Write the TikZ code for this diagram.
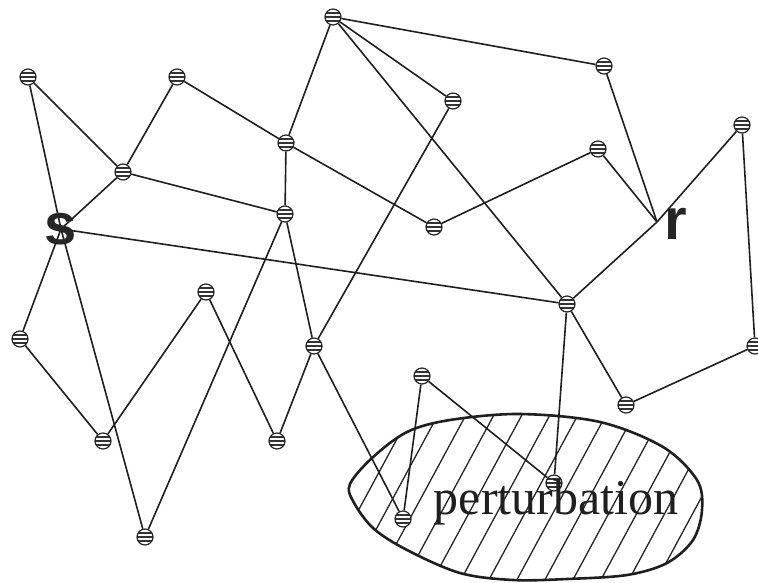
\documentclass[tikz,border=0pt]{standalone}
\usepackage{fontspec}
\setmainfont{Liberation Serif}
\newfontfamily\lsans{Liberation Sans}
\pgfdeclarelayer{background}
\pgfsetlayers{background,main}
\begin{document}
\begin{tikzpicture}[x=1pt,y=-1pt,
  vtx/.style={circle, draw=black!85, line width=1.2pt, fill=white, minimum size=16pt, inner sep=0pt,
    path picture={\foreach \d in {-4.2,0,4.2}{\draw[line width=2.1pt, black!80] ([yshift=\d pt]path picture bounding box.west) -- ([yshift=\d pt]path picture bounding box.east);}}},
  edge/.style={line width=1.6pt, draw=black!88},
  blob/.style={line width=2.6pt, draw=black!88},
  hatch/.style={line width=1.3pt, draw=black!85},
  letter/.style={font=\lsans\bfseries\fontsize{58}{58}\selectfont, inner sep=0pt, text=black!85}
]
\useasboundingbox (0,0) rectangle (758,582);

% vertices
\node[vtx] (top) at (333,17) {};
\node[vtx] (n2)  at (604,66) {};
\node[vtx] (n3)  at (453,101) {};
\node[vtx] (A)   at (28,77) {};
\node[vtx] (n5)  at (177,77) {};
\node[vtx] (n6)  at (286,143) {};
\node[vtx] (n7)  at (598,149) {};
\node[vtx] (n8)  at (742,125) {};
\node[vtx] (n9)  at (123,172) {};
\node[vtx] (n10) at (285,214) {};
\node[vtx] (n11) at (434,227) {};
\node[vtx] (n14) at (567,304) {};
\node[vtx] (n15) at (206,292) {};
\node[vtx] (n16) at (20,339) {};
\node[vtx] (n17) at (314,346) {};
\node[vtx] (n18) at (755,346) {};
\node[vtx] (n19) at (422,376) {};
\node[vtx] (n20) at (626,405) {};
\node[vtx] (n21) at (103,441) {};
\node[vtx] (n22) at (277,441) {};
\node[vtx] (n23) at (554,483) {};
\node[vtx] (n24) at (403,519) {};
\node[vtx] (n25) at (145,537) {};
\node[letter] (s) at (61,229) {s};
\coordinate (r) at (657,222);
\node[letter] (rl) at (676,224) {r};

\begin{pgfonlayer}{background}
  % perturbation region
  \begin{scope}
    \clip plot[smooth cycle, tension=0.55] coordinates {(350,484) (372,458) (407,432) (450,420) (520,414) (600,422) (663,447) (697,480) (702,510) (693,540) (667,563) (627,575) (567,579) (513,580) (460,573) (407,550) (373,528) (353,501)};
    \foreach \i in {0,...,18}{
      \draw[hatch] (226+28*\i,600) -- ++(324,-600);
    }
  \end{scope}
  \draw[blob] plot[smooth cycle, tension=0.55] coordinates {(350,484) (372,458) (407,432) (450,420) (520,414) (600,422) (663,447) (697,480) (702,510) (693,540) (667,563) (627,575) (567,579) (513,580) (460,573) (407,550) (373,528) (353,501)};

  % connectors
  \draw[edge] (A) -- (s.center);
  \draw[edge] (A) -- (n9);
  \draw[edge] (n5) -- (n9);
  \draw[edge] (n5) -- (n6);
  \draw[edge] (n9) -- (s.center);
  \draw[edge] (n9) -- (n10);
  \draw[edge] (n6) -- (top);
  \draw[edge] (n6) -- (n10);
  \draw[edge] (n6) -- (n11);
  \draw[edge] (s.center) -- (n14);
  \draw[edge] (n10) -- (n25);
  \draw[edge] (n10) -- (n17);
  \draw[edge] (n3) -- (n17);
  \draw[edge] (top) -- (n3);
  \draw[edge] (top) -- (n2);
  \draw[edge] (top) -- (n14);
  \draw[edge] (n2) -- (r);
  \draw[edge] (n7) -- (r);
  \draw[edge] (n7) -- (n11);
  \draw[edge] (r) -- (n8);
  \draw[edge] (r) -- (n14);
  \draw[edge] (n8) -- (n18);
  \draw[edge] (n14) -- (n20);
  \draw[edge] (n20) -- (n18);
  \draw[edge] (n14) -- (n23);
  \draw[edge] (s.center) -- (n16);
  \draw[edge] (s.center) -- (n25);
  \draw[edge] (n16) -- (n21);
  \draw[edge] (n21) -- (n15);
  \draw[edge] (n15) -- (n22);
  \draw[edge] (n22) -- (n17);
  \draw[edge] (n17) -- (n24);
  \draw[edge] (n19) -- (n24);
  \draw[edge] (n19) -- (n23);
\end{pgfonlayer}

\node[anchor=base, inner sep=0pt, font=\fontsize{50}{50}\selectfont, text=black!88] (pert) at (556,514) {perturbation};
\end{tikzpicture}
\end{document}
